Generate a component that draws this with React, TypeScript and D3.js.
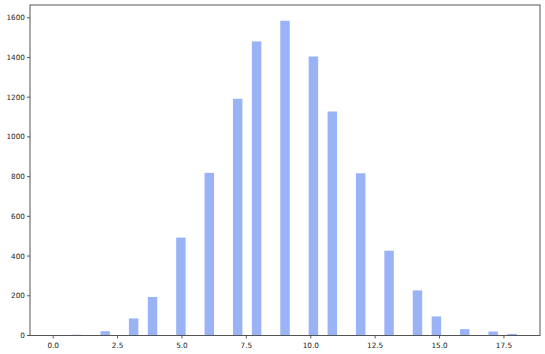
import React from "react";
import * as d3 from "d3";

const values = [0, 1, 2, 3, 4, 5, 6, 7, 8, 9, 10, 11, 12, 13, 14, 15, 16, 17, 18];
const counts = [1, 4, 22, 86, 194, 493, 819, 1192, 1481, 1585, 1405, 1128, 817, 427, 227, 96, 32, 20, 8];
const xTicks = [0, 2.5, 5, 7.5, 10, 12.5, 15, 17.5];
const yTicks = [0, 200, 400, 600, 800, 1000, 1200, 1400, 1600];
const nBins = 49;

const W = 545, H = 354;
const L = 30, R = 540, T = 5, B = 335.5;

export default function App() {
  const lo = d3.min(values) as number;
  const hi = d3.max(values) as number;
  const bw = (hi - lo) / nBins;
  const thresholds = d3.range(nBins).map((i) => lo + i * bw);
  const pad = (hi - lo) * 0.05;
  const x = d3.scaleLinear().domain([lo - pad, hi + pad]).range([L, R]);
  const maxC = d3.max(counts) as number;
  const y = d3.scaleLinear().domain([0, maxC * 1.05]).range([B, T]);

  const bars = values.map((v, i) => {
    const b = Math.min(d3.bisectRight(thresholds, v + 1e-9) - 1, nBins - 1);
    const x0 = thresholds[b];
    return { x0, x1: x0 + bw, c: counts[i] };
  });

  const font = "'DejaVu Sans', sans-serif";
  return (
    <svg width={W} height={H} style={{ position: "absolute", left: 0, top: 0, background: "#fff" }}>
      <g>
        {bars.map((d, i) => (
          <rect
            key={i}
            x={x(d.x0)}
            width={x(d.x1) - x(d.x0)}
            y={y(d.c)}
            height={B - y(d.c)}
            fill="#9ab3f7"
          />
        ))}
      </g>
      <rect x={L} y={T} width={R - L} height={B - T} fill="none" stroke="#555" strokeWidth={1} />
      {xTicks.map((t) => (
        <g key={t}>
          <line x1={x(t)} x2={x(t)} y1={B} y2={B + 3} stroke="#333" strokeWidth={0.8} />
          <text x={x(t)} y={B + 12} textAnchor="middle" fontSize={7.3} fontFamily={font} fill="#222">
            {d3.format(".1f")(t)}
          </text>
        </g>
      ))}
      {yTicks.map((t) => (
        <g key={t}>
          <line x1={L - 3} x2={L} y1={y(t)} y2={y(t)} stroke="#333" strokeWidth={0.8} />
          <text x={L - 5} y={y(t)} dy="0.35em" textAnchor="end" fontSize={7.3} fontFamily={font} fill="#222">
            {t}
          </text>
        </g>
      ))}
    </svg>
  );
}
